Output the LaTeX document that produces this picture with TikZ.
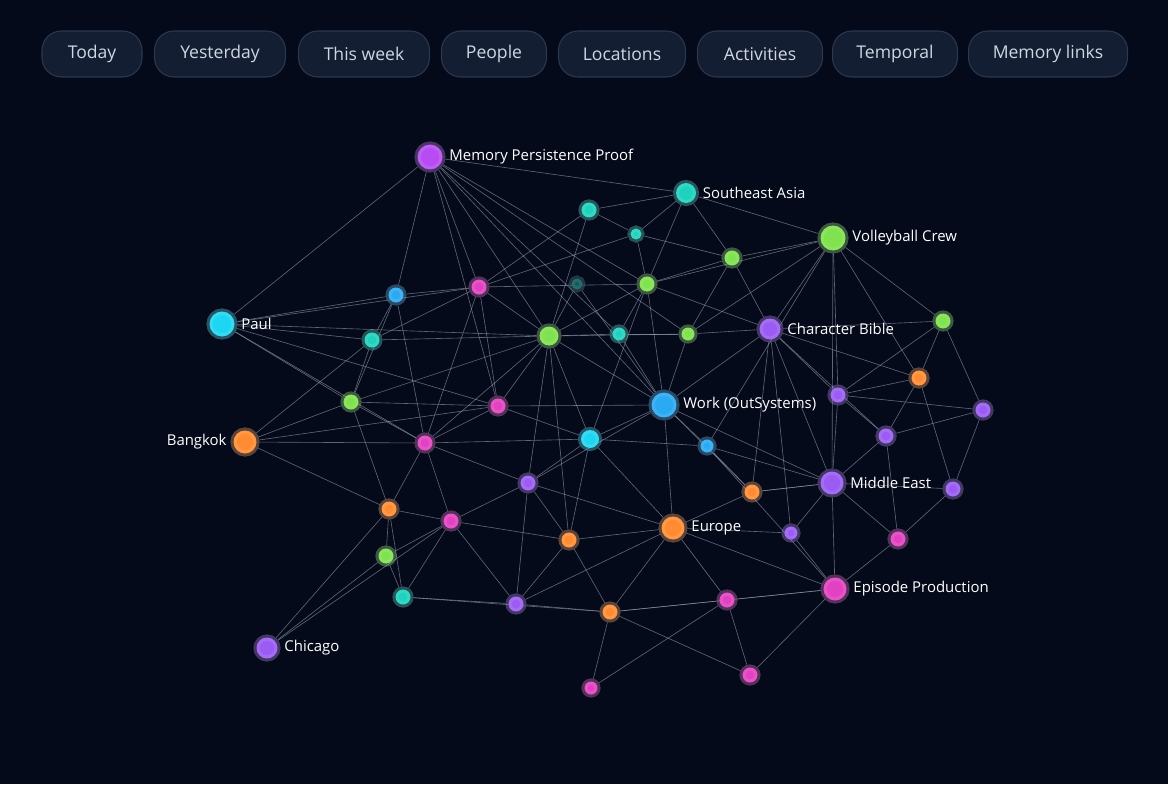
\documentclass[tikz,border=0pt]{standalone}
\usepackage{fontspec}
\setmainfont{Open Sans}
\usetikzlibrary{backgrounds}

\definecolor{bg}{HTML}{050A1A}
\definecolor{btn}{HTML}{141E32}
\definecolor{btnline}{HTML}{2A3850}
\definecolor{btntext}{HTML}{CFD7E4}
\definecolor{cPurple}{HTML}{B74CF2}
\definecolor{cViolet}{HTML}{9A5CF2}
\definecolor{cTeal}{HTML}{1ED2BE}
\definecolor{cGreen}{HTML}{7FE24E}
\definecolor{cCyan}{HTML}{1ED6F2}
\definecolor{cBlue}{HTML}{2AAAF2}
\definecolor{cOrange}{HTML}{FF8C32}
\definecolor{cPink}{HTML}{E242C2}
\definecolor{edge}{HTML}{9AA4BA}

\begin{document}
\begin{tikzpicture}[x=0.02cm, y=-0.02cm,
  button/.style={draw=btnline, fill=btn, rounded corners=11pt, line width=0.6pt,
    minimum height=0.92cm, text=btntext, font=\fontsize{10}{12}\selectfont},
  dot/.style={circle, inner sep=0pt, fill=#1, draw=#1!70!white, draw opacity=0.35, line width=3.5pt},
  big/.style={minimum size=0.5cm},
  mid/.style={minimum size=0.3cm},
  small/.style={minimum size=0.22cm},
  lbl/.style={text=white, font=\fontsize{8.5}{10}\selectfont, inner sep=2pt},
  link/.style={draw=edge, draw opacity=0.6, line width=0.35pt}]

% filter buttons
\node (today)[button, minimum width=2cm] at (92,54) {Today};
\node (yesterday)[button, minimum width=2.62cm] at (220,54) {Yesterday};
\node (thisweek)[button, minimum width=2.62cm] at (364,54) {This week};
\node (people)[button, minimum width=2.1cm] at (494,54) {People};
\node (locations)[button, minimum width=2.54cm] at (622,54) {Locations};
\node (activities)[button, minimum width=2.5cm] at (760,54) {Activities};
\node (temporal)[button, minimum width=2.5cm] at (895,54) {Temporal};
\node (memlinks)[button, minimum width=3.18cm] at (1048,54) {Memory links};

% labelled nodes
\node (mpp)[dot=cPurple, big] at (430,157) {};
\node (sea)[dot=cTeal, mid, minimum size=0.4cm] at (686,193) {};
\node (vc)[dot=cGreen, big] at (833,238) {};
\node (paul)[dot=cCyan, big] at (222,324) {};
\node (cb)[dot=cViolet, mid, minimum size=0.42cm] at (770,329) {};
\node (work)[dot=cBlue, big] at (664,405) {};
\node (bkk)[dot=cOrange, big, minimum size=0.46cm] at (245,442) {};
\node (me)[dot=cViolet, big, minimum size=0.46cm] at (832,483) {};
\node (eu)[dot=cOrange, big, minimum size=0.46cm] at (673,528) {};
\node (ep)[dot=cPink, big, minimum size=0.46cm] at (835,589) {};
\node (chi)[dot=cViolet, big, minimum size=0.42cm] at (267,648) {};

\node[lbl, anchor=west] at (mpp.east) {Memory Persistence Proof};
\node[lbl, anchor=west] at (sea.east) {Southeast Asia};
\node[lbl, anchor=west] at (vc.east) {Volleyball Crew};
\node[lbl, anchor=west] at (paul.east) {Paul};
\node[lbl, anchor=west] at (cb.east) {Character Bible};
\node[lbl, anchor=west] at (work.east) {Work (OutSystems)};
\node[lbl, anchor=east] at (bkk.west) {Bangkok};
\node[lbl, anchor=west] at (me.east) {Middle East};
\node[lbl, anchor=west] at (eu.east) {Europe};
\node[lbl, anchor=west] at (ep.east) {Episode Production};
\node[lbl, anchor=west] at (chi.east) {Chicago};

% unlabelled nodes
\node (a)[dot=cTeal, mid] at (589,210) {};
\node (b)[dot=cTeal, small] at (636,234) {};
\node (c)[dot=cGreen, mid] at (732,258) {};
\node (d)[dot=cBlue, mid] at (396,295) {};
\node (e)[dot=cPink, mid] at (479,287) {};
\node (f)[dot=cGreen, mid] at (647,284) {};
\node (g)[dot=cTeal!40!bg, small] at (577,284) {};
\node (h)[dot=cTeal, mid] at (372,340) {};
\node (i)[dot=cGreen, mid, minimum size=0.38cm] at (549,336) {};
\node (j)[dot=cTeal, small, minimum size=0.26cm] at (619,334) {};
\node (k)[dot=cGreen, small, minimum size=0.26cm] at (688,334) {};
\node (l)[dot=cGreen, mid] at (943,321) {};
\node (m)[dot=cGreen, mid] at (351,402) {};
\node (n)[dot=cPink, mid] at (498,406) {};
\node (o)[dot=cOrange, mid] at (919,378) {};
\node (p)[dot=cViolet, mid] at (838,395) {};
\node (q)[dot=cViolet, mid] at (983,410) {};
\node (r)[dot=cPink, mid] at (425,443) {};
\node (s)[dot=cCyan, mid, minimum size=0.36cm] at (590,439) {};
\node (t)[dot=cViolet, mid] at (886,436) {};
\node (u)[dot=cBlue, small, minimum size=0.26cm] at (707,446) {};
\node (v)[dot=cOrange, mid] at (389,509) {};
\node (w)[dot=cViolet, mid] at (528,483) {};
\node (x)[dot=cOrange, mid] at (752,492) {};
\node (y)[dot=cViolet, mid] at (953,489) {};
\node (z)[dot=cPink, mid] at (451,521) {};
\node (aa)[dot=cOrange, mid] at (569,540) {};
\node (bb)[dot=cViolet, small, minimum size=0.26cm] at (791,533) {};
\node (cc)[dot=cPink, mid] at (898,539) {};
\node (dd)[dot=cGreen, mid] at (386,556) {};
\node (ee)[dot=cTeal, mid] at (403,597) {};
\node (ff)[dot=cViolet, mid] at (516,604) {};
\node (gg)[dot=cOrange, mid] at (610,612) {};
\node (hh)[dot=cPink, mid] at (727,600) {};
\node (ii)[dot=cPink, mid] at (750,675) {};
\node (jj)[dot=cPink, small, minimum size=0.26cm] at (591,688) {};

% connections
\begin{scope}[on background layer]
\fill[bg] (0,0) rectangle (1168,784);
\foreach \u/\v in {mpp/paul, mpp/d, mpp/e, mpp/n, mpp/i, mpp/f, mpp/j, mpp/sea, mpp/k, mpp/work,
  sea/a, sea/b, sea/c, sea/f, sea/vc, a/e, a/b, a/i, b/f, b/c, b/e,
  vc/c, vc/f, vc/k, vc/cb, vc/l, vc/o, vc/p, vc/me, vc/u,
  c/f, c/cb, c/k, paul/d, paul/h, paul/i, paul/n, paul/r, paul/m, paul/e,
  d/e, d/h, d/m, d/r, e/h, e/i, e/f, e/r, e/n, h/i, h/m,
  i/j, i/k, i/m, i/r, i/n, i/s, i/w, i/work, i/aa, j/k, j/f, j/work,
  k/cb, k/work, f/i, f/work, f/cb, f/s, g/i, g/work,
  cb/l, cb/p, cb/o, cb/x, cb/me, cb/work, cb/bb, cb/t,
  l/o, l/q, l/p, o/p, o/t, o/y, p/q, p/me, p/t, q/t, q/y, t/me, t/cc,
  me/x, me/y, me/bb, me/ep, me/cc, me/u, me/work, y/cc,
  work/s, work/u, work/w, work/eu, work/x, work/n, u/s, u/x, u/ep,
  s/w, s/aa, s/n, s/r, s/eu, bkk/m, bkk/r, bkk/v, bkk/h, bkk/n,
  r/v, r/z, r/n, r/w, m/r, m/n, m/v, v/dd, v/ee, v/chi, v/z,
  w/z, w/aa, w/eu, z/aa, z/ff, z/dd, z/ee, z/chi, aa/eu, aa/ff, aa/gg,
  eu/x, eu/hh, eu/gg, eu/ep, eu/bb, eu/ff, bb/ep, x/me,
  ep/hh, ep/ii, ep/gg, ep/cc, dd/chi, dd/ee, ee/ff, ee/gg, ff/gg, ff/w,
  gg/jj, gg/hh, gg/ii, hh/ii, hh/jj}
  \draw[link] (\u) -- (\v);
\end{scope}
\end{tikzpicture}
\end{document}
